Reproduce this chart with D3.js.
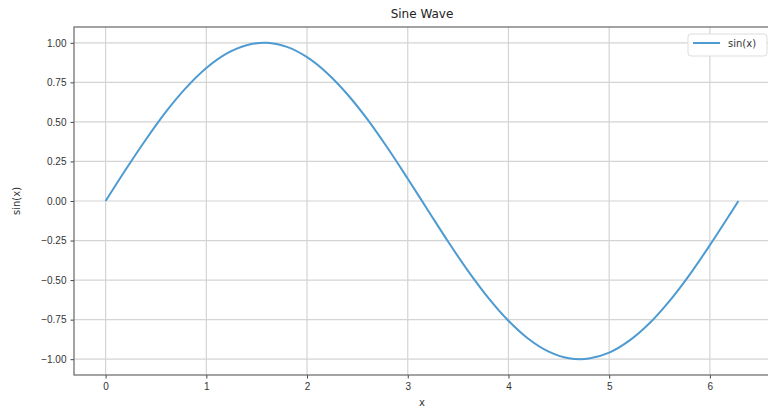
<!DOCTYPE html>
<html>
<head>
<meta charset="utf-8">
<script src="https://cdn.jsdelivr.net/npm/d3@7"></script>
<style>
  body { margin: 0; background: #fff; }
  svg { font-family: "DejaVu Sans", sans-serif; }
</style>
</head>
<body>
<svg id="chart" width="768" height="408"></svg>
<script>
// values
const xValues = [0, 0.2, 0.4, 0.6, 0.8, 1.0, 1.2, 1.4, 1.6, 1.8, 2.0, 2.2, 2.4, 2.6, 2.8, 3.0,
  3.2, 3.4, 3.6, 3.8, 4.0, 4.2, 4.4, 4.6, 4.8, 5.0, 5.2, 5.4, 5.6, 5.8, 6.0, 6.2, 6.283];
const yValues = [0, 0.199, 0.389, 0.565, 0.717, 0.841, 0.932, 0.985, 1.0, 0.974, 0.909, 0.808,
  0.675, 0.516, 0.335, 0.141, -0.058, -0.256, -0.443, -0.612, -0.757, -0.872, -0.952, -0.994,
  -0.996, -0.959, -0.883, -0.773, -0.631, -0.465, -0.279, -0.083, 0];
const xTicks = [0, 1, 2, 3, 4, 5, 6];
const yTicks = [-1, -0.75, -0.5, -0.25, 0, 0.25, 0.5, 0.75, 1];
const seriesName = 'sin(x)';

const svg = d3.select('#chart');
const plotLeft = 74, plotRight = 770, plotTop = 27, plotBottom = 375;

const x = d3.scaleLinear().domain([-0.314, 6.597]).range([plotLeft, plotRight]);
const y = d3.scaleLinear().domain([-1.1, 1.1]).range([plotBottom, plotTop]);

// grid
svg.append('g').selectAll('line').data(xTicks).join('line')
  .attr('x1', d => x(d)).attr('x2', d => x(d))
  .attr('y1', plotTop).attr('y2', plotBottom)
  .attr('stroke', '#d4d4d4').attr('stroke-width', 1.2);
svg.append('g').selectAll('line').data(yTicks).join('line')
  .attr('x1', plotLeft).attr('x2', plotRight)
  .attr('y1', d => y(d)).attr('y2', d => y(d))
  .attr('stroke', '#d4d4d4').attr('stroke-width', 1.2);

// axes
const xAxis = svg.append('g').attr('transform', `translate(0,${plotBottom})`)
  .call(d3.axisBottom(x).tickValues(xTicks).tickFormat(d3.format('d')).tickSize(3.5).tickPadding(4));
const yAxis = svg.append('g').attr('transform', `translate(${plotLeft},0)`)
  .call(d3.axisLeft(y).tickValues(yTicks).tickFormat(d3.format('.2f')).tickSize(3.5).tickPadding(4));
[xAxis, yAxis].forEach(a => {
  a.select('.domain').remove();
  a.selectAll('line').attr('stroke', '#444');
  a.selectAll('text').attr('fill', '#333').style('font-size', '10px');
});
yAxis.selectAll('text').text(d => d3.format('.2f')(d).replace('-', '\u2212'));

// frame
svg.append('rect').attr('x', plotLeft).attr('y', plotTop)
  .attr('width', plotRight - plotLeft).attr('height', plotBottom - plotTop)
  .attr('fill', 'none').attr('stroke', '#666').attr('stroke-width', 1.2);

// line
const pts = xValues.map((v, i) => [v, yValues[i]]);
svg.append('path').datum(pts)
  .attr('fill', 'none').attr('stroke', '#4e9bd2').attr('stroke-width', 2)
  .attr('d', d3.line().x(d => x(d[0])).y(d => y(d[1])).curve(d3.curveCatmullRom));

// title and labels
svg.append('text').attr('x', (plotLeft + plotRight) / 2).attr('y', 18)
  .attr('text-anchor', 'middle').style('font-size', '12px').attr('fill', '#222').text('Sine Wave');
svg.append('text').attr('x', (plotLeft + plotRight) / 2).attr('y', 406)
  .attr('text-anchor', 'middle').style('font-size', '10px').attr('fill', '#333').text('x');
svg.append('text').attr('transform', `translate(20,${(plotTop + plotBottom) / 2}) rotate(-90)`)
  .attr('text-anchor', 'middle').style('font-size', '10px').attr('fill', '#333').text('sin(x)');

// legend
const lg = svg.append('g').attr('transform', 'translate(688,34)');
lg.append('rect').attr('width', 79).attr('height', 22).attr('rx', 3)
  .attr('fill', '#fff').attr('stroke', '#ddd');
lg.append('line').attr('x1', 5).attr('x2', 32).attr('y1', 9).attr('y2', 9)
  .attr('stroke', '#4e9bd2').attr('stroke-width', 2);
lg.append('text').attr('x', 40).attr('y', 13).style('font-size', '10px').attr('fill', '#333').text(seriesName);
</script>
</body>
</html>
